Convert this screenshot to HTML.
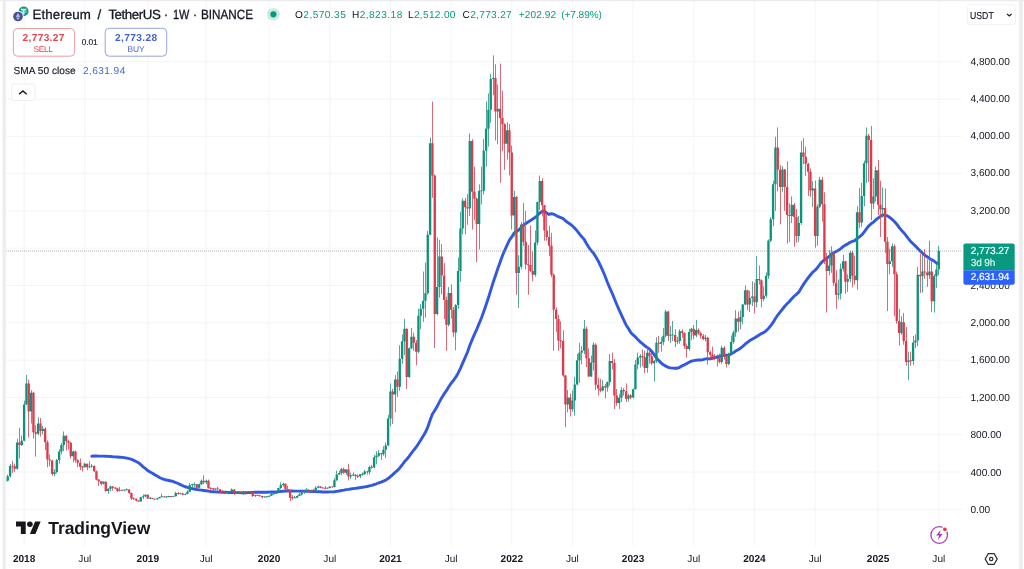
<!DOCTYPE html>
<html><head><meta charset="utf-8"><title>ETHUSDT</title>
<style>
html,body{margin:0;padding:0;background:#fff;}
body{width:1024px;height:569px;position:relative;overflow:hidden;font-family:"Liberation Sans",sans-serif;color:#131722;text-rendering:geometricPrecision;}
.abs{position:absolute;white-space:nowrap;}
.pl{position:absolute;left:970.5px;font-size:10.1px;line-height:11px;color:#131722;white-space:nowrap;}
.tl{position:absolute;top:554px;width:60px;text-align:center;font-size:10.1px;line-height:11px;color:#131722;white-space:nowrap;}
.tl.b{font-weight:bold;}
</style></head><body>
<svg class="abs" style="left:0;top:0" width="1024" height="569" viewBox="0 0 1024 569">
<defs><filter id="soft" x="0" y="0" width="1024" height="569" filterUnits="userSpaceOnUse"><feGaussianBlur stdDeviation="0.38"/></filter></defs>
<line x1="6" x2="962" y1="509.30" y2="509.30" stroke="#f3f4f5" stroke-width="1"/>
<line x1="6" x2="962" y1="472.00" y2="472.00" stroke="#f3f4f5" stroke-width="1"/>
<line x1="6" x2="962" y1="434.70" y2="434.70" stroke="#f3f4f5" stroke-width="1"/>
<line x1="6" x2="962" y1="397.40" y2="397.40" stroke="#f3f4f5" stroke-width="1"/>
<line x1="6" x2="962" y1="360.10" y2="360.10" stroke="#f3f4f5" stroke-width="1"/>
<line x1="6" x2="962" y1="322.80" y2="322.80" stroke="#f3f4f5" stroke-width="1"/>
<line x1="6" x2="962" y1="285.50" y2="285.50" stroke="#f3f4f5" stroke-width="1"/>
<line x1="6" x2="962" y1="248.20" y2="248.20" stroke="#f3f4f5" stroke-width="1"/>
<line x1="6" x2="962" y1="210.90" y2="210.90" stroke="#f3f4f5" stroke-width="1"/>
<line x1="6" x2="962" y1="173.60" y2="173.60" stroke="#f3f4f5" stroke-width="1"/>
<line x1="6" x2="962" y1="136.30" y2="136.30" stroke="#f3f4f5" stroke-width="1"/>
<line x1="6" x2="962" y1="99.00" y2="99.00" stroke="#f3f4f5" stroke-width="1"/>
<line x1="6" x2="962" y1="61.70" y2="61.70" stroke="#f3f4f5" stroke-width="1"/>
<line x1="24.10" x2="24.10" y1="1" y2="546" stroke="#f3f4f5" stroke-width="1"/>
<line x1="84.77" x2="84.77" y1="1" y2="546" stroke="#f3f4f5" stroke-width="1"/>
<line x1="147.76" x2="147.76" y1="1" y2="546" stroke="#f3f4f5" stroke-width="1"/>
<line x1="206.10" x2="206.10" y1="1" y2="546" stroke="#f3f4f5" stroke-width="1"/>
<line x1="269.10" x2="269.10" y1="1" y2="546" stroke="#f3f4f5" stroke-width="1"/>
<line x1="329.76" x2="329.76" y1="1" y2="546" stroke="#f3f4f5" stroke-width="1"/>
<line x1="390.43" x2="390.43" y1="1" y2="546" stroke="#f3f4f5" stroke-width="1"/>
<line x1="451.09" x2="451.09" y1="1" y2="546" stroke="#f3f4f5" stroke-width="1"/>
<line x1="511.76" x2="511.76" y1="1" y2="546" stroke="#f3f4f5" stroke-width="1"/>
<line x1="572.43" x2="572.43" y1="1" y2="546" stroke="#f3f4f5" stroke-width="1"/>
<line x1="633.09" x2="633.09" y1="1" y2="546" stroke="#f3f4f5" stroke-width="1"/>
<line x1="693.76" x2="693.76" y1="1" y2="546" stroke="#f3f4f5" stroke-width="1"/>
<line x1="754.42" x2="754.42" y1="1" y2="546" stroke="#f3f4f5" stroke-width="1"/>
<line x1="815.09" x2="815.09" y1="1" y2="546" stroke="#f3f4f5" stroke-width="1"/>
<line x1="878.09" x2="878.09" y1="1" y2="546" stroke="#f3f4f5" stroke-width="1"/>
<line x1="938.75" x2="938.75" y1="1" y2="546" stroke="#f3f4f5" stroke-width="1"/>
<g filter="url(#soft)">
<path d="M91.77 456.19L94.10 455.99L96.43 456.03L98.77 456.12L101.10 456.15L103.43 456.08L105.77 456.24L108.10 456.39L110.43 456.51L112.77 456.70L115.10 456.83L117.43 457.04L119.77 457.21L122.10 457.40L124.43 457.67L126.77 458.15L129.10 458.68L131.43 459.28L133.77 460.40L136.10 461.51L138.43 462.73L140.76 464.58L143.10 466.84L145.43 468.50L147.76 470.62L150.10 471.93L152.43 473.24L154.76 474.75L157.10 476.10L159.43 477.46L161.76 478.55L164.10 479.31L166.43 480.03L168.76 480.47L171.10 480.97L173.43 481.69L175.76 482.52L178.10 483.50L180.43 484.65L182.76 485.72L185.10 486.75L187.43 487.47L189.76 488.14L192.10 488.62L194.43 489.05L196.76 489.47L199.10 489.81L201.43 490.15L203.76 490.45L206.10 490.74L208.43 491.19L210.76 491.53L213.10 491.73L215.43 491.88L217.76 491.99L220.10 492.17L222.43 492.19L224.76 492.28L227.10 492.40L229.43 492.48L231.76 492.51L234.10 492.56L236.43 492.62L238.76 492.66L241.10 492.72L243.43 492.77L245.76 492.76L248.10 492.63L250.43 492.49L252.76 492.40L255.10 492.28L257.43 492.24L259.76 492.23L262.10 492.28L264.43 492.25L266.76 492.22L269.10 492.16L271.43 492.04L273.76 491.95L276.10 491.85L278.43 491.68L280.76 491.44L283.10 491.18L285.43 491.03L287.76 490.91L290.10 490.94L292.43 491.04L294.76 491.11L297.10 491.16L299.43 491.16L301.76 491.13L304.10 491.11L306.43 491.20L308.76 491.35L311.10 491.47L313.43 491.52L315.76 491.59L318.10 491.71L320.43 491.82L322.76 491.96L325.10 491.96L327.43 491.96L329.76 491.90L332.10 491.87L334.43 491.69L336.76 491.36L339.10 490.98L341.43 490.49L343.76 490.10L346.10 489.65L348.43 489.39L350.76 489.02L353.10 488.65L355.43 488.32L357.76 487.99L360.10 487.63L362.43 487.27L364.76 486.86L367.10 486.47L369.43 485.89L371.76 485.33L374.10 484.57L376.43 483.76L378.76 482.89L381.09 482.04L383.43 481.10L385.76 480.10L388.09 478.59L390.43 476.55L392.76 474.60L395.09 472.43L397.43 470.47L399.76 467.97L402.09 465.01L404.43 461.78L406.76 459.36L409.09 456.37L411.43 453.15L413.76 450.09L416.09 447.23L418.43 443.70L420.76 440.06L423.09 436.28L425.43 432.31L427.76 427.20L430.09 420.26L432.43 414.01L434.76 410.56L437.09 406.54L439.43 401.91L441.76 397.66L444.09 393.90L446.43 390.65L448.76 386.77L451.09 383.36L453.43 380.52L455.76 377.16L458.09 373.21L460.43 368.32L462.76 362.95L465.09 357.56L467.43 352.23L469.76 345.56L472.09 339.87L474.43 334.32L476.76 329.31L479.09 323.65L481.43 318.04L483.76 311.60L486.09 304.84L488.43 297.69L490.76 290.12L493.09 282.57L495.43 275.74L497.76 268.83L500.09 262.19L502.43 255.76L504.76 250.27L507.09 245.04L509.43 240.21L511.76 236.93L514.09 233.13L516.43 231.42L518.76 229.93L521.09 227.84L523.43 225.13L525.76 223.46L528.09 222.02L530.43 220.59L532.76 219.05L535.09 217.58L537.43 215.45L539.76 213.06L542.09 211.30L544.43 211.21L546.76 213.09L549.09 214.49L551.43 213.71L553.76 214.17L556.09 215.42L558.43 216.72L560.76 217.54L563.09 218.56L565.43 220.78L567.76 222.54L570.09 224.07L572.43 225.98L574.76 228.25L577.09 230.88L579.43 233.92L581.76 236.80L584.09 239.20L586.43 243.55L588.76 247.24L591.09 250.51L593.43 252.93L595.76 256.81L598.09 260.76L600.43 265.55L602.76 270.70L605.09 276.26L607.42 282.32L609.76 287.98L612.09 293.01L614.42 298.74L616.76 304.44L619.09 309.91L621.42 314.84L623.76 320.06L626.09 324.98L628.42 328.58L630.76 332.59L633.09 334.92L635.42 336.87L637.76 339.53L640.09 341.82L642.42 343.67L644.76 345.73L647.09 347.37L649.42 349.00L651.76 351.41L654.09 354.59L656.42 357.83L658.76 360.60L661.09 362.83L663.42 364.80L665.76 366.12L668.09 367.34L670.42 367.84L672.76 368.16L675.09 368.18L677.42 368.18L679.76 367.29L682.09 365.86L684.42 364.83L686.76 363.62L689.09 362.26L691.42 361.14L693.76 360.65L696.09 360.20L698.42 359.84L700.76 359.98L703.09 359.59L705.42 358.82L707.76 358.62L710.09 358.82L712.42 358.26L714.76 357.66L717.09 357.01L719.42 356.52L721.76 355.73L724.09 355.23L726.42 355.29L728.76 355.11L731.09 354.04L733.42 352.63L735.76 351.05L738.09 349.68L740.42 348.20L742.76 346.31L745.09 344.20L747.42 342.35L749.76 340.53L752.09 339.17L754.42 338.06L756.76 336.52L759.09 334.98L761.42 333.60L763.76 332.47L766.09 330.85L768.42 328.40L770.76 325.57L773.09 322.40L775.42 318.47L777.76 315.03L780.09 312.05L782.42 309.21L784.76 306.24L787.09 303.84L789.42 301.46L791.76 298.73L794.09 296.25L796.42 294.35L798.76 292.15L801.09 288.28L803.42 284.44L805.76 281.07L808.09 277.94L810.42 275.03L812.76 272.20L815.09 270.26L817.42 267.68L819.76 264.49L822.09 261.83L824.42 259.95L826.76 258.28L829.09 256.45L831.42 254.34L833.76 252.83L836.09 251.49L838.42 250.40L840.75 248.63L843.09 246.58L845.42 245.13L847.75 243.87L850.09 242.28L852.42 241.42L854.75 240.59L857.09 238.50L859.42 236.86L861.75 234.97L864.09 232.15L866.42 228.90L868.75 225.77L871.09 223.80L873.42 222.15L875.75 219.95L878.09 218.06L880.42 216.34L882.75 214.98L885.09 215.00L887.42 215.90L889.75 217.44L892.09 219.41L894.42 221.50L896.75 224.18L899.09 227.45L901.42 230.16L903.75 232.67L906.09 235.59L908.42 238.71L910.75 241.59L913.09 243.71L915.42 246.06L917.75 248.51L920.09 250.89L922.42 253.05L924.75 255.06L927.09 256.76L929.42 258.42L931.75 259.73L934.09 261.12L936.42 262.91L938.75 263.84" stroke="#3059e2" stroke-width="2.9" fill="none" stroke-linejoin="round" stroke-linecap="round"/>
<line x1="6" x2="962" y1="251.00" y2="251.00" stroke="#8a9290" stroke-width="1.1" stroke-dasharray="1 1" opacity="0.7"/>
<path d="M5.50 479.27V482.44M7.50 474.61V481.32M10.50 464.07V477.41M17.50 438.90V469.67M21.50 435.63V445.89M24.50 400.66V441.23M26.50 375.02V404.86M31.50 390.13V423.51M38.50 417.45V435.17M42.50 425.84V434.23M54.50 469.20V476.20M56.50 458.94V473.40M59.50 449.15V463.61M61.50 443.09V454.28M63.50 431.44V451.02M73.50 450.55V462.21M84.50 462.95V467.62M89.50 461.28V468.27M91.50 464.07V467.80M103.50 481.32V484.59M108.50 488.32V493.73M110.50 485.52V491.40M119.50 486.92V491.58M124.50 489.53V491.40M126.50 488.32V490.18M140.50 496.71V501.56M143.50 494.38V499.04M145.50 494.38V497.36M150.50 496.99V498.67M157.50 497.92V499.79M159.50 496.71V498.48M161.50 493.73V497.08M166.50 496.06V497.92M168.50 495.87V497.27M173.50 495.78V497.08M175.50 491.86V496.34M180.50 492.79V494.57M185.50 493.35V495.31M187.50 490.18V494.38M189.50 483.19V492.24M192.50 483.66V487.67M194.50 482.35V486.92M199.50 483.38V488.13M201.50 479.46V485.06M206.50 479.65V484.03M215.50 488.32V490.37M227.50 492.14V493.91M229.50 491.40V493.17M231.50 488.41V491.86M236.50 492.05V494.01M238.50 490.93V493.73M243.50 490.74V495.03M248.50 491.12V492.51M255.50 494.57V497.08M264.50 496.62V497.92M266.50 496.43V497.64M269.50 495.50V496.80M271.50 492.61V496.06M273.50 493.35V494.85M276.50 491.77V493.91M278.50 487.76V492.05M280.50 482.26V489.25M283.50 482.63V486.73M294.50 495.87V498.02M297.50 495.31V497.74M299.50 492.89V496.25M301.50 491.58V495.50M304.50 490.65V493.82M306.50 488.13V491.58M311.50 489.62V492.89M315.50 486.27V490.93M318.50 485.71V488.41M327.50 487.57V488.88M329.50 486.08V488.51M334.50 478.15V487.57M336.50 470.60V480.86M339.50 470.60V475.26M341.50 467.80V475.17M346.50 469.20V474.80M350.50 472.75V478.99M353.50 472.47V476.20M360.50 474.05V478.25M362.50 472.47V475.54M364.50 470.04V475.08M369.50 465.66V474.80M374.50 454.84V468.27M376.50 451.21V464.35M378.50 449.99V457.08M383.50 446.17V455.68M385.50 442.53V457.92M388.50 414.93V445.80M390.50 383.41V426.31M395.50 375.02V412.32M399.50 345.18V390.87M402.50 334.46V363.83M404.50 318.88V354.97M409.50 347.51V377.82M411.50 327.93V348.91M418.50 308.81V353.11M420.50 304.15V329.33M423.50 271.51V321.87M425.50 262.65V317.67M427.50 230.95V294.83M430.50 137.70V235.15M437.50 237.48V315.34M439.50 239.81V297.62M448.50 286.90V326.53M455.50 304.15V350.31M458.50 257.52V308.81M460.50 211.83V281.77M462.50 198.31V234.21M469.50 133.50V216.03M479.50 184.32V249.60M481.50 166.61V204.37M483.50 139.10V194.58M486.50 101.33V166.61M488.50 93.41V146.56M490.50 73.82V122.78M493.50 55.36V95.27M497.50 84.55V144.23M507.50 122.31V159.61M514.50 190.85V236.54M518.50 255.19V307.88M521.50 222.09V269.18M535.50 230.48V276.64M537.50 201.57V245.40M539.50 175.47V209.97M567.50 389.94V412.32M572.50 390.41V411.85M574.50 376.88V415.58M577.50 354.04V385.28M579.50 342.85V382.95M581.50 346.11V364.30M584.50 320.00V354.04M591.50 355.44V376.88M593.50 342.38V370.36M602.50 380.15V391.34M607.50 381.55V391.81M609.50 354.04V385.74M619.50 394.14V409.06M621.50 387.14V402.06M628.50 393.67V401.60M633.50 388.54V398.33M635.50 360.10V389.47M637.50 352.64V369.43M640.50 354.04V367.56M647.50 346.58V372.69M654.50 360.10V381.55M656.50 337.25V362.90M661.50 337.25V351.71M663.50 327.93V345.18M665.50 309.75V337.25M670.50 326.06V342.85M672.50 320.94V340.98M677.50 336.79V344.25M679.50 329.33V343.78M689.50 328.86V350.77M691.50 327.93V340.05M696.50 320.00V337.25M705.50 334.92V341.45M717.50 354.50V366.63M721.50 345.65V363.83M728.50 352.64V365.23M731.50 335.39V354.50M733.50 330.73V343.78M735.50 310.21V336.79M740.50 310.21V329.33M742.50 304.15V324.20M745.50 285.50V305.08M749.50 290.63V312.08M752.50 281.30V306.01M756.50 256.13V307.41M763.50 286.43V301.35M766.50 272.45V297.62M768.50 239.34V278.97M770.50 216.96V242.14M773.50 180.59V226.29M775.50 136.77V210.90M782.50 166.14V191.78M791.50 196.45V223.02M798.50 216.03V242.14M801.50 140.96V224.89M812.50 181.06V207.17M817.50 204.37V245.87M819.50 176.86V208.10M829.50 250.06V275.24M831.50 246.34V272.91M838.50 279.44V299.49M840.50 263.59V299.49M843.50 254.73V271.51M847.50 274.31V292.03M850.50 251.00V282.24M857.50 206.24V289.70M861.50 182.93V226.75M864.50 160.55V206.24M866.50 127.44V182.93M873.50 178.26V209.04M875.50 166.61V201.57M882.50 187.59V217.43M889.50 248.67V274.31M892.50 243.54V266.85M901.50 316.27V334.92M908.50 351.71V380.15M913.50 335.86V365.23M915.50 334.46V347.98M917.50 266.85V346.11M922.50 254.26V292.49M929.50 240.74V278.97M934.50 274.31V312.54M936.50 263.59V287.83M938.50 246.04V275.06" stroke="#2a9180" stroke-width="1.0" stroke-opacity="0.8" fill="none"/>
<path d="M12.50 460.81V472.93M14.50 463.61V471.81M19.50 427.71V458.48M28.50 379.68V437.50M33.50 391.62V438.43M35.50 425.38V456.61M40.50 417.92V436.56M45.50 427.24V450.09M47.50 440.30V467.34M49.50 454.28V466.41M52.50 459.88V475.73M66.50 435.17V450.55M68.50 439.83V449.62M70.50 441.69V458.48M75.50 450.55V462.68M77.50 458.94V467.34M80.50 458.48V470.13M82.50 465.94V471.53M87.50 463.61V470.13M94.50 465.66V472.00M96.50 470.60V480.39M98.50 478.99V485.99M101.50 480.86V485.52M105.50 481.32V491.58M112.50 485.99V490.65M115.50 487.39V489.25M117.50 487.67V492.05M122.50 489.72V490.84M129.50 489.44V493.91M131.50 492.51V499.98M133.50 497.36V499.79M136.50 498.48V501.56M138.50 500.35V501.75M147.50 494.57V498.67M152.50 497.92V499.04M154.50 498.76V499.79M164.50 496.06V497.64M171.50 495.97V496.99M178.50 491.96V494.66M182.50 492.79V495.31M196.50 484.03V488.32M203.50 475.17V484.12M208.50 479.55V488.60M210.50 487.39V491.49M213.50 487.95V490.84M217.50 486.92V490.46M220.50 489.06V493.07M222.50 490.28V492.51M224.50 491.30V494.10M234.50 489.44V495.13M241.50 491.77V493.54M245.50 491.30V492.89M250.50 491.49V492.70M252.50 491.96V496.99M257.50 495.03V495.97M259.50 495.13V496.34M262.50 495.87V498.39M285.50 483.38V489.72M287.50 485.71V491.02M290.50 489.90V501.19M292.50 495.03V499.98M308.50 489.06V492.51M313.50 489.06V491.58M320.50 485.99V488.32M322.50 486.92V488.79M325.50 486.08V489.16M332.50 486.45V487.85M343.50 467.62V473.87M348.50 463.79V480.39M355.50 474.24V480.11M357.50 474.52V478.06M367.50 470.88V474.61M371.50 464.82V468.83M381.50 452.98V459.88M392.50 388.73V423.98M397.50 371.57V396.75M406.50 328.67V389.01M413.50 332.59V350.77M416.50 340.05V365.23M432.50 101.61V197.85M434.50 174.53V347.98M441.50 244.00V294.36M444.50 263.12V319.07M446.50 296.69V350.77M451.50 284.57V318.60M453.50 306.95V336.79M465.50 197.85V234.21M467.50 194.12V224.89M472.50 139.10V229.55M474.50 166.61V220.23M476.50 197.38V262.19M495.50 64.31V140.50M500.50 63.56V182.93M502.50 90.61V151.22M504.50 123.25V169.87M509.50 124.18V175.47M511.50 145.62V229.55M516.50 195.98V294.83M523.50 202.97V245.87M525.50 210.90V269.65M528.50 244.94V294.83M530.50 225.35V271.98M532.50 251.46V281.30M542.50 178.26V216.50M544.50 204.84V240.74M546.50 212.76V240.74M549.50 225.82V256.13M551.50 232.81V277.11M553.50 273.38V350.77M556.50 307.41V332.12M558.50 314.87V350.77M560.50 321.40V348.44M563.50 330.26V376.88M565.50 375.02V427.24M570.50 393.67V416.52M586.50 326.53V367.09M588.50 348.44V376.88M595.50 343.32V389.94M598.50 377.82V395.54M600.50 378.75V392.27M605.50 383.88V398.33M612.50 352.64V369.43M614.50 359.17V409.06M616.50 389.01V405.79M623.50 388.08V395.54M626.50 383.41V402.06M630.50 394.14V399.26M642.50 349.38V366.16M644.50 350.77V373.15M649.50 348.91V363.83M651.50 352.64V365.23M658.50 335.86V352.64M668.50 311.14V340.98M675.50 329.33V347.05M682.50 329.33V337.72M684.50 332.12V348.91M686.50 343.78V357.77M693.50 325.13V339.12M698.50 328.39V334.92M700.50 331.66V338.65M703.50 333.99V340.05M707.50 336.79V364.76M710.50 350.77V360.10M712.50 346.58V360.10M714.50 354.04V360.10M719.50 353.57V363.36M724.50 346.11V359.63M726.50 356.37V367.56M738.50 311.61V331.66M747.50 289.70V310.21M754.50 282.70V313.48M759.50 265.45V284.57M761.50 279.44V307.41M777.50 127.44V191.32M780.50 165.21V224.42M784.50 168.94V210.90M787.50 161.48V243.54M789.50 203.44V242.14M794.50 202.97V246.80M796.50 209.04V242.61M803.50 138.17V164.28M805.50 146.56V175.93M808.50 162.88V195.98M810.50 168.47V196.91M815.50 180.59V247.73M822.50 176.86V221.62M824.50 192.25V264.05M826.50 252.86V312.54M833.50 251.46V285.97M836.50 270.11V308.81M845.50 260.79V293.89M852.50 251.00V287.37M854.50 255.66V284.57M859.50 188.05V228.15M868.50 133.97V181.99M871.50 126.04V220.23M878.50 160.08V215.10M880.50 180.59V237.01M885.50 188.52V252.86M887.50 237.01V311.14M894.50 244.47V316.27M896.50 271.51V323.73M899.50 308.81V345.65M903.50 313.01V344.71M906.50 327.00V365.70M910.50 351.71V365.70M920.50 253.80V292.96M924.50 249.13V278.97M927.50 259.39V286.90M931.50 259.39V312.08" stroke="#cf4557" stroke-width="1.0" stroke-opacity="0.8" fill="none"/>
<path d="M4.26 480.67h2.35V481.60h-2.35zM6.59 476.29h2.35V480.67h-2.35zM8.93 465.94h2.35V476.29h-2.35zM15.93 442.44h2.35V468.64h-2.35zM20.59 440.76h2.35V444.96h-2.35zM22.93 404.39h2.35V440.76h-2.35zM25.26 383.60h2.35V404.39h-2.35zM29.92 392.74h2.35V411.39h-2.35zM36.92 423.51h2.35V433.77h-2.35zM41.59 428.64h2.35V430.97h-2.35zM53.26 472.00h2.35V474.05h-2.35zM55.59 459.88h2.35V472.00h-2.35zM57.92 451.49h2.35V459.88h-2.35zM60.26 444.96h2.35V451.49h-2.35zM62.59 435.63h2.35V444.96h-2.35zM71.92 451.49h2.35V456.15h-2.35zM83.59 463.79h2.35V467.15h-2.35zM88.26 466.41h2.35V467.34h-2.35zM90.59 465.68h2.35V466.58h-2.35zM102.26 481.79h2.35V483.66h-2.35zM106.92 488.79h2.35V491.02h-2.35zM109.26 486.45h2.35V488.79h-2.35zM118.59 490.18h2.35V491.12h-2.35zM123.26 489.69h2.35V490.59h-2.35zM125.59 489.36h2.35V490.26h-2.35zM139.59 497.18h2.35V501.47h-2.35zM141.92 496.31h2.35V497.21h-2.35zM144.26 494.66h2.35V496.34h-2.35zM148.92 497.85h2.35V498.75h-2.35zM155.92 498.20h2.35V499.32h-2.35zM158.26 496.90h2.35V498.20h-2.35zM160.59 496.35h2.35V497.25h-2.35zM165.26 496.40h2.35V497.30h-2.35zM167.59 496.03h2.35V496.93h-2.35zM172.26 495.93h2.35V496.83h-2.35zM174.59 493.07h2.35V496.15h-2.35zM179.26 493.14h2.35V494.04h-2.35zM183.92 493.93h2.35V494.83h-2.35zM186.26 491.86h2.35V494.10h-2.35zM188.59 485.06h2.35V491.86h-2.35zM190.92 484.33h2.35V485.23h-2.35zM193.26 483.91h2.35V484.81h-2.35zM197.92 484.31h2.35V487.67h-2.35zM200.26 480.77h2.35V484.31h-2.35zM204.92 480.86h2.35V482.26h-2.35zM214.26 488.60h2.35V489.62h-2.35zM225.92 492.42h2.35V493.35h-2.35zM228.26 491.60h2.35V492.50h-2.35zM230.59 489.62h2.35V491.68h-2.35zM235.26 493.00h2.35V493.90h-2.35zM237.59 492.33h2.35V493.45h-2.35zM242.26 492.11h2.35V493.01h-2.35zM246.92 491.55h2.35V492.45h-2.35zM253.92 495.19h2.35V496.09h-2.35zM263.25 496.45h2.35V497.35h-2.35zM265.59 496.31h2.35V497.21h-2.35zM267.92 495.69h2.35V496.71h-2.35zM270.25 493.73h2.35V495.69h-2.35zM272.59 493.23h2.35V494.13h-2.35zM274.92 491.77h2.35V493.63h-2.35zM277.25 488.04h2.35V491.77h-2.35zM279.59 485.06h2.35V488.04h-2.35zM281.92 483.75h2.35V485.06h-2.35zM293.59 497.29h2.35V498.19h-2.35zM295.92 495.97h2.35V497.64h-2.35zM298.25 494.57h2.35V495.97h-2.35zM300.59 492.42h2.35V494.57h-2.35zM302.92 490.93h2.35V492.42h-2.35zM305.25 489.72h2.35V490.93h-2.35zM309.92 490.00h2.35V491.77h-2.35zM314.59 487.76h2.35V490.65h-2.35zM316.92 486.45h2.35V487.76h-2.35zM326.25 487.68h2.35V488.58h-2.35zM328.59 486.73h2.35V487.95h-2.35zM333.25 480.30h2.35V487.01h-2.35zM335.59 474.61h2.35V480.30h-2.35zM337.92 472.93h2.35V474.61h-2.35zM340.25 468.92h2.35V472.93h-2.35zM344.92 469.39h2.35V472.84h-2.35zM349.59 475.17h2.35V476.38h-2.35zM351.92 474.49h2.35V475.39h-2.35zM358.92 474.33h2.35V476.38h-2.35zM361.25 473.74h2.35V474.64h-2.35zM363.59 471.44h2.35V474.05h-2.35zM368.25 466.96h2.35V472.37h-2.35zM372.92 457.17h2.35V467.52h-2.35zM375.25 455.68h2.35V457.17h-2.35zM377.59 453.16h2.35V455.68h-2.35zM382.25 449.81h2.35V454.28h-2.35zM384.59 445.61h2.35V449.81h-2.35zM386.92 418.38h2.35V445.61h-2.35zM389.25 391.62h2.35V418.38h-2.35zM393.92 379.50h2.35V394.42h-2.35zM398.59 358.70h2.35V386.86h-2.35zM400.92 341.26h2.35V358.70h-2.35zM403.25 328.86h2.35V341.26h-2.35zM407.92 348.26h2.35V376.88h-2.35zM410.25 336.79h2.35V348.26h-2.35zM417.25 315.81h2.35V351.71h-2.35zM419.59 308.81h2.35V315.81h-2.35zM421.92 300.70h2.35V308.81h-2.35zM424.25 293.33h2.35V300.70h-2.35zM426.59 234.68h2.35V293.33h-2.35zM428.92 143.29h2.35V234.68h-2.35zM435.92 286.90h2.35V313.94h-2.35zM438.25 256.59h2.35V286.90h-2.35zM447.59 292.96h2.35V324.67h-2.35zM454.59 305.08h2.35V332.59h-2.35zM456.92 271.05h2.35V305.08h-2.35zM459.25 228.62h2.35V271.05h-2.35zM461.59 200.64h2.35V228.62h-2.35zM468.59 140.96h2.35V208.57h-2.35zM477.92 190.85h2.35V223.96h-2.35zM480.25 190.40h2.35V191.30h-2.35zM482.59 150.75h2.35V190.85h-2.35zM484.92 128.84h2.35V150.75h-2.35zM487.25 109.72h2.35V128.84h-2.35zM489.58 78.95h2.35V109.72h-2.35zM491.92 78.02h2.35V78.95h-2.35zM496.58 108.79h2.35V111.59h-2.35zM505.92 130.24h2.35V143.76h-2.35zM512.92 196.91h2.35V215.56h-2.35zM517.58 266.85h2.35V272.91h-2.35zM519.92 224.42h2.35V266.85h-2.35zM533.92 242.61h2.35V274.78h-2.35zM536.25 202.04h2.35V242.61h-2.35zM538.58 181.06h2.35V202.04h-2.35zM566.58 397.40h2.35V404.39h-2.35zM571.25 400.48h2.35V409.34h-2.35zM573.58 384.53h2.35V400.48h-2.35zM575.92 360.29h2.35V384.53h-2.35zM578.25 352.64h2.35V360.29h-2.35zM580.58 350.77h2.35V352.64h-2.35zM582.92 328.86h2.35V350.77h-2.35zM589.92 362.43h2.35V376.42h-2.35zM592.25 344.71h2.35V362.43h-2.35zM601.58 386.21h2.35V390.41h-2.35zM606.25 382.01h2.35V387.61h-2.35zM608.58 361.03h2.35V382.01h-2.35zM617.92 397.87h2.35V403.00h-2.35zM620.25 389.94h2.35V397.87h-2.35zM627.25 395.54h2.35V398.80h-2.35zM631.92 389.19h2.35V397.40h-2.35zM634.25 364.58h2.35V389.19h-2.35zM636.58 357.49h2.35V364.58h-2.35zM638.92 355.90h2.35V357.49h-2.35zM645.92 352.64h2.35V368.03h-2.35zM652.92 361.03h2.35V363.36h-2.35zM655.25 342.85h2.35V361.03h-2.35zM659.92 341.92h2.35V343.78h-2.35zM662.25 335.86h2.35V341.92h-2.35zM664.58 311.61h2.35V335.86h-2.35zM669.25 334.85h2.35V335.75h-2.35zM671.58 334.47h2.35V335.37h-2.35zM676.25 340.77h2.35V341.67h-2.35zM678.58 331.19h2.35V340.98h-2.35zM687.92 332.12h2.35V348.91h-2.35zM690.25 328.67h2.35V332.12h-2.35zM694.92 330.07h2.35V335.58h-2.35zM704.25 337.72h2.35V338.93h-2.35zM715.92 357.83h2.35V358.73h-2.35zM720.58 347.70h2.35V361.97h-2.35zM727.58 354.04h2.35V364.11h-2.35zM729.91 341.92h2.35V354.04h-2.35zM732.25 332.59h2.35V341.92h-2.35zM734.58 318.60h2.35V332.59h-2.35zM739.25 316.93h2.35V321.87h-2.35zM741.58 304.62h2.35V316.93h-2.35zM743.91 290.16h2.35V304.62h-2.35zM748.58 298.09h2.35V304.62h-2.35zM750.91 296.50h2.35V298.09h-2.35zM755.58 278.97h2.35V302.29h-2.35zM762.58 295.76h2.35V299.02h-2.35zM764.91 275.71h2.35V295.76h-2.35zM767.25 240.74h2.35V275.71h-2.35zM769.58 219.29h2.35V240.74h-2.35zM771.91 184.32h2.35V219.29h-2.35zM774.25 147.49h2.35V184.32h-2.35zM781.25 169.40h2.35V187.12h-2.35zM790.58 204.84h2.35V216.03h-2.35zM797.58 223.02h2.35V236.08h-2.35zM799.91 152.62h2.35V223.02h-2.35zM811.58 188.52h2.35V190.38h-2.35zM816.25 206.70h2.35V236.08h-2.35zM818.58 179.66h2.35V206.70h-2.35zM827.91 265.45h2.35V271.05h-2.35zM830.25 252.86h2.35V265.45h-2.35zM837.25 293.43h2.35V294.83h-2.35zM839.58 268.72h2.35V293.43h-2.35zM841.91 261.25h2.35V268.72h-2.35zM846.58 278.97h2.35V281.77h-2.35zM848.91 252.86h2.35V278.97h-2.35zM855.91 212.30h2.35V280.37h-2.35zM860.58 195.98h2.35V222.56h-2.35zM862.91 163.34h2.35V195.98h-2.35zM865.25 135.83h2.35V163.34h-2.35zM872.25 196.45h2.35V203.44h-2.35zM874.58 170.34h2.35V196.45h-2.35zM881.58 208.10h2.35V209.50h-2.35zM888.58 261.25h2.35V264.05h-2.35zM890.91 246.34h2.35V261.25h-2.35zM900.25 322.33h2.35V333.06h-2.35zM907.25 360.57h2.35V361.97h-2.35zM911.91 342.38h2.35V361.03h-2.35zM914.25 340.52h2.35V342.38h-2.35zM916.58 274.78h2.35V340.52h-2.35zM921.25 271.51h2.35V276.18h-2.35zM928.25 271.51h2.35V275.24h-2.35zM932.91 276.18h2.35V301.35h-2.35zM935.25 269.61h2.35V276.18h-2.35zM937.58 250.69h2.35V269.61h-2.35z" fill="#11927d"/>
<path d="M11.26 465.63h2.35V466.53h-2.35zM13.59 466.22h2.35V468.64h-2.35zM18.26 442.44h2.35V444.96h-2.35zM27.59 383.60h2.35V411.39h-2.35zM32.26 392.74h2.35V432.37h-2.35zM34.59 432.37h2.35V433.77h-2.35zM39.26 423.51h2.35V430.97h-2.35zM43.92 428.64h2.35V442.16h-2.35zM46.26 442.16h2.35V459.41h-2.35zM48.59 459.41h2.35V460.62h-2.35zM50.92 460.62h2.35V474.05h-2.35zM64.92 435.63h2.35V441.23h-2.35zM67.26 441.23h2.35V442.63h-2.35zM69.59 442.63h2.35V456.15h-2.35zM74.26 451.49h2.35V460.34h-2.35zM76.59 460.34h2.35V462.68h-2.35zM78.92 462.68h2.35V466.87h-2.35zM81.26 466.56h2.35V467.46h-2.35zM85.92 463.79h2.35V467.34h-2.35zM92.92 465.85h2.35V471.25h-2.35zM95.26 471.25h2.35V479.46h-2.35zM97.59 479.46h2.35V481.32h-2.35zM99.92 481.32h2.35V483.66h-2.35zM104.59 481.79h2.35V491.02h-2.35zM111.59 486.45h2.35V487.67h-2.35zM113.92 487.50h2.35V488.40h-2.35zM116.26 488.23h2.35V491.12h-2.35zM120.92 489.78h2.35V490.68h-2.35zM127.92 489.62h2.35V492.89h-2.35zM130.26 492.89h2.35V498.48h-2.35zM132.59 498.17h2.35V499.07h-2.35zM134.92 498.76h2.35V500.53h-2.35zM137.26 500.53h2.35V501.47h-2.35zM146.59 494.66h2.35V498.39h-2.35zM151.26 498.08h2.35V498.98h-2.35zM153.59 498.64h2.35V499.54h-2.35zM162.92 496.45h2.35V497.35h-2.35zM169.92 496.03h2.35V496.93h-2.35zM176.92 492.95h2.35V493.85h-2.35zM181.59 493.45h2.35V494.66h-2.35zM195.59 484.22h2.35V487.67h-2.35zM202.59 480.77h2.35V482.26h-2.35zM207.26 480.86h2.35V488.23h-2.35zM209.59 487.82h2.35V488.72h-2.35zM211.92 488.32h2.35V489.62h-2.35zM216.59 488.43h2.35V489.33h-2.35zM218.92 489.16h2.35V491.12h-2.35zM221.26 491.09h2.35V491.99h-2.35zM223.59 491.96h2.35V493.35h-2.35zM232.92 489.62h2.35V493.45h-2.35zM239.92 492.20h2.35V493.10h-2.35zM244.59 491.79h2.35V492.69h-2.35zM249.26 491.41h2.35V492.31h-2.35zM251.59 492.05h2.35V496.06h-2.35zM256.25 494.82h2.35V495.72h-2.35zM258.59 495.24h2.35V496.14h-2.35zM260.92 496.06h2.35V496.99h-2.35zM284.25 483.75h2.35V488.97h-2.35zM286.59 488.97h2.35V490.65h-2.35zM288.92 490.65h2.35V497.64h-2.35zM291.25 497.29h2.35V498.19h-2.35zM307.59 489.72h2.35V491.77h-2.35zM312.25 489.87h2.35V490.77h-2.35zM319.25 486.45h2.35V487.76h-2.35zM321.59 487.45h2.35V488.35h-2.35zM323.92 487.73h2.35V488.63h-2.35zM330.92 486.42h2.35V487.32h-2.35zM342.59 468.92h2.35V472.84h-2.35zM347.25 469.39h2.35V476.38h-2.35zM354.25 474.70h2.35V476.01h-2.35zM356.59 475.75h2.35V476.65h-2.35zM365.92 471.44h2.35V472.37h-2.35zM370.59 466.79h2.35V467.69h-2.35zM379.92 453.16h2.35V454.28h-2.35zM391.59 391.62h2.35V394.42h-2.35zM396.25 379.50h2.35V386.86h-2.35zM405.59 328.86h2.35V376.88h-2.35zM412.59 336.79h2.35V342.85h-2.35zM414.92 342.85h2.35V351.71h-2.35zM431.25 143.29h2.35V175.47h-2.35zM433.59 175.47h2.35V313.94h-2.35zM440.59 256.59h2.35V275.43h-2.35zM442.92 275.43h2.35V299.95h-2.35zM445.25 299.95h2.35V324.67h-2.35zM449.92 292.96h2.35V309.75h-2.35zM452.25 309.75h2.35V332.59h-2.35zM463.92 200.64h2.35V207.17h-2.35zM466.25 207.17h2.35V208.57h-2.35zM470.92 140.96h2.35V191.78h-2.35zM473.25 191.78h2.35V198.78h-2.35zM475.59 198.78h2.35V223.96h-2.35zM494.25 78.02h2.35V111.59h-2.35zM498.92 108.79h2.35V118.12h-2.35zM501.25 118.12h2.35V124.18h-2.35zM503.58 124.18h2.35V143.76h-2.35zM508.25 130.24h2.35V152.62h-2.35zM510.58 152.62h2.35V215.56h-2.35zM515.25 196.91h2.35V272.91h-2.35zM522.25 224.42h2.35V241.67h-2.35zM524.58 241.67h2.35V264.52h-2.35zM526.92 264.30h2.35V265.20h-2.35zM529.25 264.99h2.35V271.05h-2.35zM531.58 271.05h2.35V274.78h-2.35zM540.92 181.06h2.35V205.31h-2.35zM543.25 205.31h2.35V230.48h-2.35zM545.58 230.48h2.35V237.01h-2.35zM547.92 237.01h2.35V245.87h-2.35zM550.25 245.87h2.35V274.78h-2.35zM552.58 274.78h2.35V309.75h-2.35zM554.92 309.75h2.35V319.07h-2.35zM557.25 319.07h2.35V340.52h-2.35zM559.58 340.30h2.35V341.20h-2.35zM561.92 340.98h2.35V375.49h-2.35zM564.25 375.49h2.35V404.39h-2.35zM568.92 397.40h2.35V409.34h-2.35zM585.25 328.86h2.35V358.24h-2.35zM587.58 358.24h2.35V376.42h-2.35zM594.58 344.71h2.35V384.81h-2.35zM596.92 384.81h2.35V388.54h-2.35zM599.25 388.54h2.35V390.41h-2.35zM603.92 386.21h2.35V387.61h-2.35zM610.92 361.03h2.35V362.90h-2.35zM613.25 362.90h2.35V395.54h-2.35zM615.58 395.54h2.35V403.00h-2.35zM622.58 389.94h2.35V391.34h-2.35zM624.92 391.34h2.35V398.80h-2.35zM629.58 395.54h2.35V397.40h-2.35zM641.25 355.90h2.35V357.30h-2.35zM643.58 357.30h2.35V368.03h-2.35zM648.25 352.64h2.35V356.37h-2.35zM650.58 356.37h2.35V363.36h-2.35zM657.58 342.85h2.35V343.78h-2.35zM666.92 311.61h2.35V335.67h-2.35zM673.92 334.92h2.35V341.45h-2.35zM680.92 331.19h2.35V333.06h-2.35zM683.25 333.06h2.35V345.93h-2.35zM685.58 345.93h2.35V348.91h-2.35zM692.58 328.67h2.35V335.58h-2.35zM697.25 330.07h2.35V333.24h-2.35zM699.58 333.24h2.35V335.67h-2.35zM701.92 335.67h2.35V338.93h-2.35zM706.58 337.72h2.35V352.17h-2.35zM708.92 352.17h2.35V354.78h-2.35zM711.25 354.78h2.35V356.84h-2.35zM713.58 356.84h2.35V358.51h-2.35zM718.25 358.05h2.35V361.97h-2.35zM722.92 347.70h2.35V357.02h-2.35zM725.25 357.02h2.35V364.11h-2.35zM736.91 318.60h2.35V321.87h-2.35zM746.25 290.16h2.35V304.62h-2.35zM753.25 296.50h2.35V302.29h-2.35zM757.91 278.97h2.35V280.37h-2.35zM760.25 280.37h2.35V299.02h-2.35zM776.58 147.49h2.35V169.87h-2.35zM778.91 169.87h2.35V187.12h-2.35zM783.58 169.40h2.35V187.12h-2.35zM785.91 187.12h2.35V215.10h-2.35zM788.25 215.10h2.35V216.03h-2.35zM792.91 204.84h2.35V216.96h-2.35zM795.25 216.96h2.35V236.08h-2.35zM802.25 152.62h2.35V156.81h-2.35zM804.58 156.81h2.35V163.81h-2.35zM806.91 163.81h2.35V171.74h-2.35zM809.25 171.74h2.35V190.38h-2.35zM813.91 188.52h2.35V236.08h-2.35zM820.91 179.66h2.35V204.37h-2.35zM823.25 204.37h2.35V258.46h-2.35zM825.58 258.46h2.35V271.05h-2.35zM832.58 252.86h2.35V282.70h-2.35zM834.91 282.70h2.35V294.83h-2.35zM844.25 261.25h2.35V281.77h-2.35zM851.25 252.86h2.35V275.71h-2.35zM853.58 275.71h2.35V280.37h-2.35zM858.25 212.30h2.35V222.56h-2.35zM867.58 135.83h2.35V140.03h-2.35zM869.91 140.03h2.35V203.44h-2.35zM876.91 170.34h2.35V204.84h-2.35zM879.25 204.84h2.35V209.50h-2.35zM883.91 208.10h2.35V241.67h-2.35zM886.25 241.67h2.35V264.05h-2.35zM893.25 246.34h2.35V274.31h-2.35zM895.58 274.31h2.35V320.94h-2.35zM897.91 320.94h2.35V333.06h-2.35zM902.58 322.33h2.35V340.98h-2.35zM904.91 340.98h2.35V361.97h-2.35zM909.58 360.35h2.35V361.25h-2.35zM918.91 274.78h2.35V276.18h-2.35zM923.58 271.51h2.35V272.45h-2.35zM925.91 272.45h2.35V275.24h-2.35zM930.58 271.51h2.35V301.35h-2.35z" fill="#db3a4c"/>
</g>
<rect x="0" y="0" width="5.8" height="569" fill="#ffffff"/>
<rect x="0" y="0" width="1024" height="1.2" fill="#ececee"/>
<rect x="2.5" y="0" width="3.3" height="569" fill="#ededf0"/>
<rect x="1019.1" y="0" width="3.6" height="569" fill="#ededf0"/>
</svg>
<div class="abs" style="left:0;top:0;width:1024px;height:569px;will-change:transform;">
<div class="pl" style="top:505px">0.00</div><div class="pl" style="top:468px">400.00</div><div class="pl" style="top:430px">800.00</div><div class="pl" style="top:393px">1,200.00</div><div class="pl" style="top:355px">1,600.00</div><div class="pl" style="top:318px">2,000.00</div><div class="pl" style="top:281px">2,400.00</div><div class="pl" style="top:243px">2,800.00</div><div class="pl" style="top:206px">3,200.00</div><div class="pl" style="top:168px">3,600.00</div><div class="pl" style="top:131px">4,000.00</div><div class="pl" style="top:94px">4,400.00</div><div class="pl" style="top:57px">4,800.00</div>
<div class="tl b" style="left:-5.9px">2018</div><div class="tl" style="left:54.8px">Jul</div><div class="tl b" style="left:117.8px">2019</div><div class="tl" style="left:176.1px">Jul</div><div class="tl b" style="left:239.1px">2020</div><div class="tl" style="left:299.8px">Jul</div><div class="tl b" style="left:360.4px">2021</div><div class="tl" style="left:421.1px">Jul</div><div class="tl b" style="left:481.8px">2022</div><div class="tl" style="left:542.4px">Jul</div><div class="tl b" style="left:603.1px">2023</div><div class="tl" style="left:663.8px">Jul</div><div class="tl b" style="left:724.4px">2024</div><div class="tl" style="left:785.1px">Jul</div><div class="tl b" style="left:848.1px">2025</div><div class="tl" style="left:908.8px">Jul</div>

<svg class="abs" style="left:0;top:0" width="1024" height="569" viewBox="0 0 1024 569">
<!-- symbol logos -->
<circle cx="23.7" cy="11.3" r="4.9" fill="#1c9a84"/>
<path d="M21 9.5h5.4M23.7 9.5v5" stroke="#c4f2e8" stroke-width="1.5" fill="none"/>
<ellipse cx="23.7" cy="11.7" rx="2.6" ry="0.9" fill="none" stroke="#c4f2e8" stroke-width="0.6"/>
<circle cx="18.0" cy="16.5" r="5.7" fill="#ffffff"/>
<circle cx="18.0" cy="16.5" r="4.85" fill="#4b5196"/>
<path d="M18 13.1l-2.1 3.5 2.1 1.25 2.1-1.25z" fill="#b3b8ee"/>
<path d="M18 20.1l-2.1-2.9 2.1 1.25 2.1-1.25z" fill="#cfd2f5"/>
<!-- status dot -->
<circle cx="273.4" cy="14.3" r="6.4" fill="#089981" opacity="0.2"/>
<circle cx="273.4" cy="14.3" r="3.1" fill="#089981"/>
<!-- sell / buy -->
<rect x="13.4" y="28.5" width="61.2" height="27.7" rx="4" fill="#fff" stroke="#ef9a9f" stroke-width="1"/>
<rect x="105.2" y="28.3" width="61.5" height="27.9" rx="4" fill="#fff" stroke="#93a5dd" stroke-width="1"/>
<!-- collapse button -->
<rect x="11.6" y="84" width="23.3" height="16.4" rx="2.5" fill="#fff" stroke="#eceef2" stroke-width="1"/>
<path d="M19.1 94.3l3.8-3.3 3.8 3.3" stroke="#131722" stroke-width="1.5" fill="none"/>
<!-- USDT box -->
<rect x="967.3" y="4.8" width="48.3" height="19.8" rx="2.5" fill="#fff" stroke="#f0f2f5" stroke-width="1"/>
<path d="M1007 13.9l2.3 2.1 2.3-2.1" stroke="#131722" stroke-width="1.25" fill="none"/>
<!-- price labels -->
<path d="M965.4 243.4h47.3a2 2 0 0 1 2 2V270.2h-51.3V245.4a2 2 0 0 1 2-2z" fill="#089981"/>
<path d="M963.4 270.2h51.3v12.6a2 2 0 0 1-2 2h-47.3a2 2 0 0 1-2-2z" fill="#2962ff"/>
<!-- TV logo -->
<g transform="translate(16 518.75) scale(0.694)" fill="#16171d">
<path d="M14 22H7V11H0V4h14v18zM28 22h-8l7.5-18h8L28 22z"/><circle cx="20" cy="8" r="4"/>
</g>
<!-- lightning -->
<circle cx="939.2" cy="535" r="8.3" fill="#fff" stroke="#a63cc0" stroke-width="1.3"/>
<path d="M940.7 529.9l-4.6 5.7h3.0l-1.3 4.3 4.9-6.0h-3.1z" fill="#a63cc0"/>
<circle cx="944.9" cy="529.3" r="2.9" fill="#fff"/>
<circle cx="944.9" cy="529.3" r="1.85" fill="#e8394a"/>
<!-- settings hex -->
<path d="M985.2 559l3-5.3h6l3 5.3-3 5.3h-6z" fill="none" stroke="#2a2e39" stroke-width="1.3" stroke-linejoin="round"/>
<circle cx="991.2" cy="559" r="1.7" fill="none" stroke="#2a2e39" stroke-width="1.2"/>
</svg>
<span id="t_t1" class="abs" style="left:32.50px;top:7px;font-size:13.3px;line-height:15px;color:#131722;letter-spacing:0.099px;-webkit-text-stroke:0.3px #131722;">Ethereum</span>
<span id="t_t2" class="abs" style="left:97.50px;top:7px;font-size:13.3px;line-height:15px;color:#131722;letter-spacing:0.194px;-webkit-text-stroke:0.3px #131722;">/</span>
<span id="t_t3" class="abs" style="left:108.40px;top:7px;font-size:13.3px;line-height:15px;color:#131722;letter-spacing:-0.432px;-webkit-text-stroke:0.3px #131722;">TetherUS</span>
<span id="t_t4" class="abs" style="left:163.80px;top:7px;font-size:13.3px;line-height:15px;color:#131722;letter-spacing:0.000px;-webkit-text-stroke:0.3px #131722;">·</span>
<span id="t_t5" class="abs" style="left:173.00px;top:7px;font-size:13.3px;line-height:15px;color:#131722;letter-spacing:0.000px;transform:scaleX(0.8219);transform-origin:0 0;-webkit-text-stroke:0.3px #131722;">1W</span>
<span id="t_t6" class="abs" style="left:192.80px;top:7px;font-size:13.3px;line-height:15px;color:#131722;letter-spacing:0.000px;-webkit-text-stroke:0.3px #131722;">·</span>
<span id="t_t7" class="abs" style="left:201.00px;top:7px;font-size:13.3px;line-height:15px;color:#131722;letter-spacing:0.000px;transform:scaleX(0.8814);transform-origin:0 0;-webkit-text-stroke:0.3px #131722;">BINANCE</span>
<span id="t_o" class="abs" style="left:295.00px;top:10px;font-size:10.1px;line-height:11px;color:#089981;letter-spacing:0.452px;"><span style="color:#131722">O</span>2,570.35</span>
<span id="t_h" class="abs" style="left:351.90px;top:10px;font-size:10.1px;line-height:11px;color:#089981;letter-spacing:0.471px;"><span style="color:#131722">H</span>2,823.18</span>
<span id="t_l" class="abs" style="left:408.00px;top:10px;font-size:10.1px;line-height:11px;color:#089981;letter-spacing:0.315px;"><span style="color:#131722">L</span>2,512.00</span>
<span id="t_c" class="abs" style="left:462.50px;top:10px;font-size:10.1px;line-height:11px;color:#089981;letter-spacing:0.330px;"><span style="color:#131722">C</span>2,773.27</span>
<span id="t_chg" class="abs" style="left:518.75px;top:10px;font-size:10.1px;line-height:11px;color:#089981;letter-spacing:0.111px;">+202.92</span>
<span id="t_pct" class="abs" style="left:561.25px;top:10px;font-size:10.1px;line-height:11px;color:#089981;letter-spacing:-0.080px;">(+7.89%)</span>
<span id="t_sellp" class="abs" style="left:22.60px;top:33px;font-size:10.1px;line-height:11px;color:#e5414f;font-weight:bold;letter-spacing:0.347px;">2,773.27</span>
<span id="t_sell" class="abs" style="left:33.60px;top:44px;font-size:8.4px;line-height:10px;color:#e5414f;letter-spacing:-0.371px;">SELL</span>
<span id="t_spread" class="abs" style="left:81.80px;top:37px;font-size:8.4px;line-height:10px;color:#131722;letter-spacing:-0.175px;-webkit-text-stroke:0.15px #131722;">0.01</span>
<span id="t_buyp" class="abs" style="left:115.00px;top:33px;font-size:10.1px;line-height:11px;color:#3d5fd6;font-weight:bold;letter-spacing:0.414px;">2,773.28</span>
<span id="t_buy" class="abs" style="left:127.40px;top:44px;font-size:8.4px;line-height:10px;color:#3d5fd6;letter-spacing:-0.054px;">BUY</span>
<span id="t_sma" class="abs" style="left:13.40px;top:66px;font-size:10.1px;line-height:11px;color:#131722;letter-spacing:0.051px;-webkit-text-stroke:0.15px #131722;">SMA 50 close</span>
<span id="t_smav" class="abs" style="left:82.90px;top:66px;font-size:10.1px;line-height:11px;color:#3d6be0;letter-spacing:0.440px;">2,631.94</span>
<span id="t_usdt" class="abs" style="left:969.50px;top:11px;font-size:10.1px;line-height:11px;color:#131722;letter-spacing:0.000px;transform:scaleX(0.8623);transform-origin:0 0;-webkit-text-stroke:0.15px #131722;">USDT</span>
<span id="t_tv" class="abs" style="left:48.30px;top:518px;font-size:17.5px;line-height:20px;color:#16171d;font-weight:bold;letter-spacing:-0.082px;">TradingView</span>
<span id="t_cur" class="abs" style="left:970.70px;top:246px;font-size:10.1px;line-height:11px;color:#ffffff;letter-spacing:-0.080px;-webkit-text-stroke:0.2px #ffffff;">2,773.27</span>
<span id="t_cd" class="abs" style="left:970.70px;top:258px;font-size:10.1px;line-height:11px;color:#d6f0ea;letter-spacing:-0.126px;-webkit-text-stroke:0.2px #d6f0ea;">3d 9h</span>
<span id="t_smal" class="abs" style="left:970.70px;top:272px;font-size:10.1px;line-height:11px;color:#ffffff;letter-spacing:-0.080px;-webkit-text-stroke:0.2px #ffffff;">2,631.94</span>
</div>
</body></html>
